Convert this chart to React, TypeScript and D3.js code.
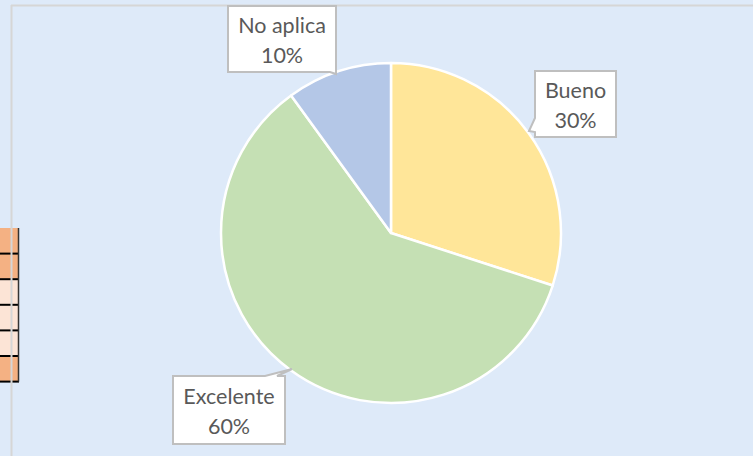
import React from "react";
import * as d3 from "d3";

const categories = ["Bueno", "Excelente", "No aplica"];
const values = [30, 60, 10];
const percentLabels = ["30%", "60%", "10%"];
const sliceColors = ["#ffe699", "#c5e0b4", "#b4c7e7"];

const tableRowColors = ["#f4b183", "#f4b183", "#fce4d6", "#fce4d6", "#fce4d6", "#f4b183"];

const W = 753;
const H = 456;
const cx = 391;
const cy = 233;
const R = 170;

// callout boxes: [x, y, w, h]
const boxes = [
  { x: 535, y: 71, w: 81, h: 66 },
  { x: 173, y: 376, w: 112, h: 68 },
  { x: 228, y: 6, w: 108, h: 66 },
];

export default function App() {
  const pie = d3.pie<number>().value((d) => d).sort(null);
  const arcs = pie(values);
  const arcGen = d3.arc<d3.PieArcDatum<number>>().innerRadius(0).outerRadius(R);

  const tableTop = 228;
  const rowH = 25.6;

  const calloutPaths = [
    (b: any) =>
      `M${b.x},${b.y} H${b.x + b.w} V${b.y + b.h} H${b.x} V${b.y + 61} L${b.x - 6},${b.y + 60} L${b.x},${b.y + 47} Z`,
    (b: any) =>
      `M${b.x},${b.y} H${b.x + 92} L${b.x + 119},${b.y - 7} L${b.x + 104},${b.y} H${b.x + b.w} V${b.y + b.h} H${b.x} Z`,
    (b: any) =>
      `M${b.x},${b.y} H${b.x + b.w} V${b.y + b.h + 2} L${b.x + b.w - 6},${b.y + b.h} H${b.x} Z`,
  ];

  return (
    <svg
      width={W}
      height={H}
      style={{ position: "absolute", left: 0, top: 0, display: "block" }}
      fontFamily="Lato, 'Open Sans', sans-serif"
    >
      <rect x={0} y={0} width={W} height={H} fill="#deeaf9" />

      <g>
        {tableRowColors.map((c, i) => (
          <rect key={i} x={0} y={tableTop + i * rowH} width={18} height={rowH} fill={c} />
        ))}
        {tableRowColors.map((_, i) => (
          <line
            key={"l" + i}
            x1={0}
            x2={19}
            y1={tableTop + (i + 1) * rowH}
            y2={tableTop + (i + 1) * rowH}
            stroke="#000"
            strokeWidth={2}
          />
        ))}
        <line x1={18.5} x2={18.5} y1={tableTop} y2={tableTop + 6 * rowH} stroke="#333" strokeWidth={1.5} />
      </g>

      <line x1={11} x2={W} y1={5.5} y2={5.5} stroke="#d6d6d6" strokeWidth={2} />
      <line x1={11.5} x2={11.5} y1={5} y2={H} stroke="#d6d6d6" strokeWidth={2} />

      <g transform={`translate(${cx},${cy})`}>
        {arcs.map((a, i) => (
          <path key={i} d={arcGen(a) || ""} fill={sliceColors[i]} stroke="#ffffff" strokeWidth={2.5} strokeLinejoin="round" />
        ))}
      </g>

      {boxes.map((b, i) => (
        <g key={i}>
          <path d={calloutPaths[i](b)} fill="#ffffff" stroke="#bfbfbf" strokeWidth={2} strokeLinejoin="miter" />
          <text x={b.x + b.w / 2} y={b.y + b.h / 2 - 6} textAnchor="middle" fontSize={21.5} fill="#595959">
            {categories[i]}
          </text>
          <text x={b.x + b.w / 2} y={b.y + b.h / 2 + 24} textAnchor="middle" fontSize={21.5} fill="#595959">
            {percentLabels[i]}
          </text>
        </g>
      ))}
    </svg>
  );
}
